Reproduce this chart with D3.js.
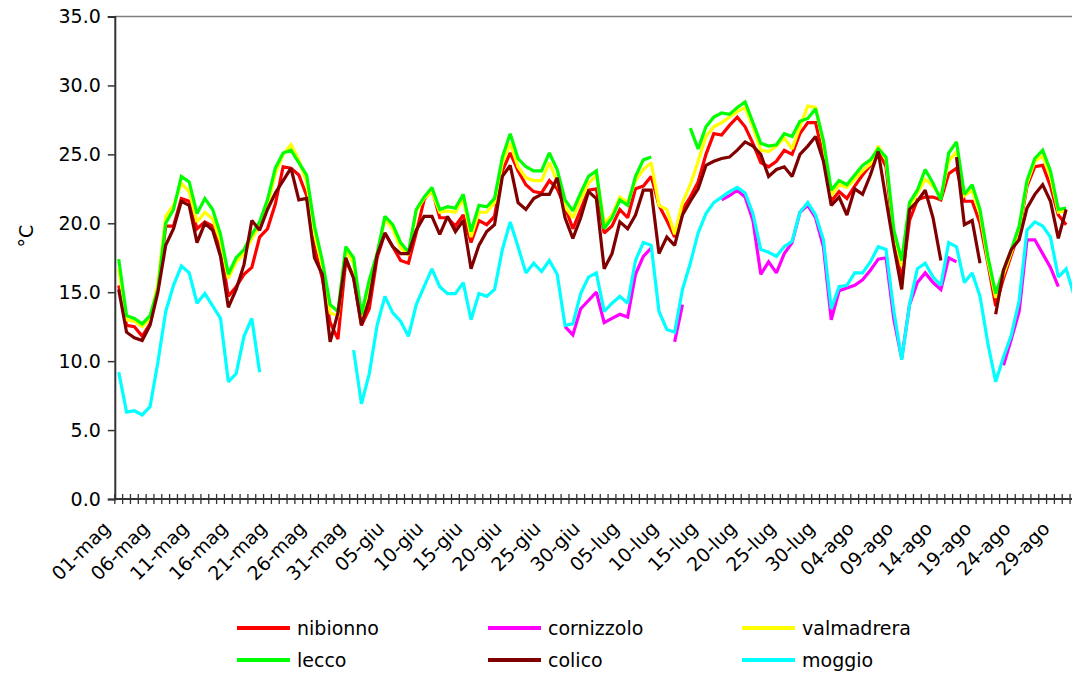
<!DOCTYPE html>
<html><head><meta charset="utf-8">
<script src="https://cdn.jsdelivr.net/npm/d3@7"></script>
<style>body{margin:0;background:#fff}svg{display:block}text{font-family:"DejaVu Sans",Verdana,sans-serif}</style>
</head><body><svg id="c" width="1072" height="679"></svg>
<script>
const months = [["mag",31],["giu",30],["lug",31],["ago",31]];
const categories = [];
months.forEach(([m,n]) => { for (let d=1; d<=n; d++) categories.push((d<10?"0":"")+d+"-"+m); });
const tickLabels = ["01-mag","06-mag","11-mag","16-mag","21-mag","26-mag","31-mag","05-giu","10-giu","15-giu","20-giu","25-giu","30-giu","05-lug","10-lug","15-lug","20-lug","25-lug","30-lug","04-ago","09-ago","14-ago","19-ago","24-ago","29-ago"];
const yTicks = [0,5,10,15,20,25,30,35];
const _ = null;
const nibionno = [15.5,12.6,12.5,11.8,12.7,15.3,19.8,19.8,21.8,21.6,19.6,20.1,19.8,18.2,14.7,15.4,16.3,16.8,19.0,19.6,21.4,24.1,24.0,23.5,22.0,18.3,16.0,12.8,11.6,17.3,16.1,12.6,13.8,17.5,19.3,18.3,17.3,17.1,19.3,21.7,22.5,20.4,20.4,19.8,20.6,18.6,20.2,19.9,20.5,23.8,25.1,23.8,22.8,22.3,22.2,23.1,22.5,21.2,19.6,21.0,22.4,22.5,19.3,19.8,21.0,20.4,22.5,22.7,23.4,21.3,20.2,19.0,21.0,21.9,23.0,25.0,26.5,26.4,27.1,27.7,27.0,25.8,24.4,24.1,24.5,25.3,25.0,26.5,27.3,27.3,24.8,21.6,22.3,21.8,22.7,23.5,24.2,25.3,24.1,18.8,15.9,20.2,21.7,21.9,21.9,21.7,23.6,24.0,21.6,21.6,20.0,17.1,14.0,16.0,17.7,19.4,22.7,24.1,24.2,22.7,20.6,19.9,_];
const cornizzolo = [_,_,_,_,_,_,_,_,_,_,_,_,_,_,_,_,_,_,_,_,_,_,_,_,_,_,_,_,_,_,_,_,_,_,_,_,_,_,_,_,_,_,_,_,_,_,_,_,_,_,_,_,_,_,_,_,_,12.5,11.9,13.8,14.4,15.0,12.8,13.1,13.4,13.2,16.3,17.6,18.2,_,_,11.4,14.1,_,_,_,_,21.7,22.0,22.4,21.9,20.2,16.3,17.2,16.4,17.8,18.6,20.8,21.3,20.4,18.3,13.0,15.1,15.3,15.5,15.9,16.6,17.4,17.5,13.0,10.2,14.1,15.7,16.4,15.7,15.2,17.5,17.2,_,_,_,_,_,9.7,11.6,13.6,18.8,18.8,17.8,16.8,15.4,_,_];
const valmadrera = [16.7,13.0,12.9,12.5,13.1,15.6,20.5,21.3,22.9,22.3,20.1,20.8,20.3,18.7,16.0,17.2,17.8,18.9,19.8,21.2,23.6,25.0,25.7,24.6,23.0,19.2,16.9,13.5,13.3,18.0,17.1,13.0,15.5,17.8,20.3,19.6,18.2,17.7,20.9,21.8,22.3,20.8,20.9,20.8,21.8,19.0,20.8,20.8,21.5,24.4,25.8,24.1,23.3,23.1,23.1,24.4,23.0,21.2,20.4,21.7,22.9,23.5,20.0,20.6,21.9,21.5,23.1,23.9,24.4,21.3,21.0,19.2,21.5,22.8,24.5,26.3,27.0,27.3,27.7,28.1,28.4,27.0,25.3,25.2,25.6,26.2,25.4,27.0,28.5,28.4,25.8,22.0,22.8,22.6,23.2,23.8,24.3,25.6,24.6,19.3,16.9,21.2,22.2,23.2,22.7,21.9,24.5,25.2,22.0,22.4,20.7,17.3,14.6,16.3,17.9,19.6,22.9,24.5,24.9,23.4,20.8,20.9,_];
const lecco = [17.4,13.3,13.1,12.7,13.3,15.2,20.0,21.0,23.4,23.0,20.7,21.8,21.0,19.2,16.3,17.5,18.1,19.2,20.1,21.7,24.0,25.1,25.3,24.4,23.5,19.8,17.3,14.1,13.6,18.3,17.5,13.4,15.9,17.8,20.5,19.9,18.6,17.9,21.0,21.9,22.6,21.0,21.2,21.1,22.1,19.4,21.3,21.2,21.8,24.8,26.5,24.7,24.1,23.8,23.8,25.1,23.9,21.7,20.9,22.2,23.4,23.8,19.6,20.4,21.7,21.3,23.4,24.6,24.8,_,_,_,_,26.9,25.4,27.0,27.7,28.0,27.9,28.4,28.8,27.3,25.8,25.6,25.7,26.5,26.3,27.4,27.6,28.3,26.0,22.4,23.1,22.8,23.5,24.2,24.6,25.4,24.8,19.5,17.3,21.5,22.4,23.9,22.9,21.7,25.1,25.9,22.1,22.8,21.0,17.6,14.9,16.6,18.1,19.8,23.1,24.7,25.3,23.8,21.0,21.1,_];
const colico = [15.2,12.1,11.7,11.5,12.6,15.0,18.4,19.6,21.6,21.3,18.6,20.0,19.5,17.6,13.9,15.2,17.0,20.2,19.5,21.0,22.2,23.1,24.0,21.7,21.8,17.5,16.3,11.4,13.5,17.5,16.0,12.6,14.5,17.7,19.3,18.3,17.8,17.8,19.5,20.5,20.5,19.2,20.5,19.4,20.2,16.7,18.4,19.4,19.9,23.4,24.2,21.5,21.0,21.8,22.1,22.1,23.3,20.4,18.9,20.4,22.3,21.8,16.7,17.8,20.1,19.6,20.6,22.4,22.4,17.8,19.0,18.4,20.6,21.6,22.5,24.2,24.5,24.7,24.8,25.3,25.9,25.6,25.0,23.4,23.9,24.1,23.4,25.0,25.6,26.3,24.5,21.3,21.9,20.6,22.5,22.1,23.5,25.2,21.7,18.3,15.2,21.0,21.6,22.4,20.4,17.3,_,24.8,19.9,20.2,17.1,_,13.4,16.6,18.1,18.8,21.1,22.1,22.8,21.6,18.9,21.0,_];
const moggio = [9.2,6.3,6.4,6.1,6.7,9.9,13.6,15.5,16.9,16.4,14.2,14.9,14.0,13.1,8.5,9.1,11.8,13.1,9.2,_,_,_,_,_,_,_,_,_,_,_,10.8,6.9,9.1,12.6,14.7,13.5,12.9,11.8,14.1,15.4,16.7,15.4,14.9,14.9,15.7,13.0,14.9,14.7,15.2,18.1,20.1,18.3,16.4,17.1,16.5,17.3,16.3,12.6,12.7,14.9,16.1,16.4,13.6,14.2,14.7,14.2,17.3,18.6,18.4,13.6,12.3,12.1,15.2,17.1,19.3,20.7,21.5,21.9,22.3,22.6,22.2,20.7,18.1,17.9,17.6,18.3,18.7,20.8,21.5,20.6,18.8,13.8,15.4,15.5,16.4,16.4,17.2,18.3,18.1,13.6,10.1,14.1,16.7,17.1,16.1,15.5,18.6,18.3,15.7,16.4,14.7,11.3,8.5,10.3,11.9,14.4,19.5,20.1,19.8,19.0,16.1,16.7,14.8];

const seriesNames = ["nibionno","cornizzolo","valmadrera","lecco","colico","moggio"];
const seriesData = [nibionno,cornizzolo,valmadrera,lecco,colico,moggio];
const seriesColors = ["#FF0000","#FF00FF","#FFFF00","#00FF00","#800000","#00FFFF"];

(function(){
const svg = d3.select("#c");
const mL = 114.8, mT = 16.5, mB = 499, bw = 7.83;
const x = d3.scaleBand().domain(categories).range([mL, mL + bw*categories.length]).padding(0);
const y = d3.scaleLinear().domain([0,35]).range([mB, mT]);
const cx = c => x(c) + x.bandwidth()/2;

svg.append("rect").attr("width",1072).attr("height",679).attr("fill","#fff");
svg.append("line").attr("x1",mL).attr("x2",mL + bw*categories.length).attr("y1",mT).attr("y2",mT).attr("stroke","#808080").attr("stroke-width",1.5);

const line = d3.line().defined(d => d.v != null).x(d => cx(d.c)).y(d => y(d.v));
seriesData.forEach((arr,i) => {
  const pts = categories.map((c,j) => ({c, v: arr[j] === undefined ? null : arr[j]}));
  svg.append("path").datum(pts).attr("d", line).attr("fill","none")
    .attr("stroke", seriesColors[i]).attr("stroke-width",3.2).attr("stroke-linejoin","miter").attr("stroke-miterlimit",2);
});

const yAxis = svg.append("g").attr("transform",`translate(${mL},0)`)
  .call(d3.axisLeft(y).tickValues(yTicks).tickFormat(d3.format(".1f")).tickSize(7).tickPadding(7));
yAxis.select(".domain").attr("stroke","#333").attr("stroke-width",2);
yAxis.selectAll(".tick line").attr("stroke","#333").attr("stroke-width",1.5);
yAxis.selectAll("text").attr("font-size",19).attr("fill","#000").style("font-family","'DejaVu Sans', Verdana, sans-serif");

const xg = svg.append("g");
xg.append("line").attr("x1",mL).attr("x2",mL + bw*categories.length).attr("y1",mB).attr("y2",mB).attr("stroke","#333").attr("stroke-width",2);
xg.selectAll("line.t").data(d3.range(categories.length+1)).join("line").attr("class","t")
  .attr("x1", i => mL + i*x.bandwidth()).attr("x2", i => mL + i*x.bandwidth())
  .attr("y1", mB-5).attr("y2", mB+5).attr("stroke","#333").attr("stroke-width",1.3);
xg.selectAll("text").data(tickLabels).join("text")
  .attr("transform", d => `translate(${cx(d)-12},${mB+26}) rotate(-45)`)
  .attr("text-anchor","end").attr("dy","0.35em").attr("font-size",19).attr("fill","#000").text(d => d);

svg.append("text").attr("transform","translate(26,236) rotate(-90)").attr("text-anchor","middle")
  .attr("dy","0.35em").attr("font-size",19).text("°C");

const lg = svg.append("g");
const legX = [237, 488, 742], legY = [628, 660];
seriesNames.forEach((n,i) => {
  const gx = legX[i%3], gy = legY[Math.floor(i/3)];
  lg.append("line").attr("x1",gx).attr("x2",gx+53).attr("y1",gy).attr("y2",gy).attr("stroke",seriesColors[i]).attr("stroke-width",4);
  lg.append("text").attr("x",gx+60).attr("y",gy).attr("dy","0.35em").attr("font-size",19).text(n);
});
})();
</script></body></html>
